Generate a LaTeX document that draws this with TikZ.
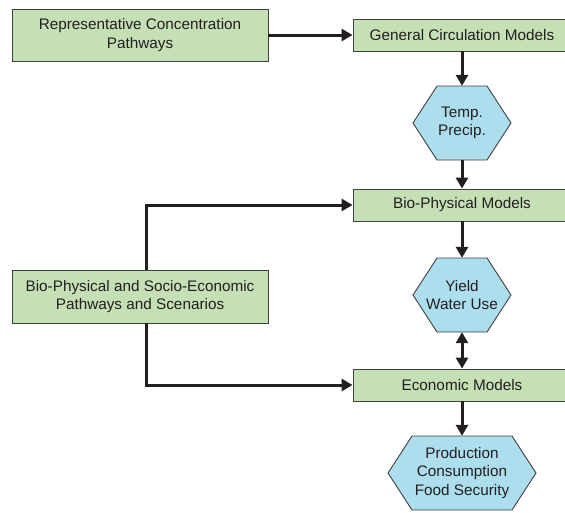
\documentclass[tikz,border=0pt]{standalone}
\usepackage{fontspec}
\setmainfont{Liberation Sans}
\usetikzlibrary{arrows.meta}

\definecolor{boxgreen}{RGB}{197,224,180}
\definecolor{hexblue}{RGB}{173,222,237}
\definecolor{inkdark}{RGB}{35,31,32}

\tikzset{
    model/.style={draw=black!75, line width=0.9pt, fill=boxgreen, text=inkdark,
        font=\fontsize{15.3}{18.5}\selectfont, align=center, inner sep=0pt,
        minimum height=32pt, minimum width=218pt},
    driver/.style={model, minimum height=52pt, minimum width=256pt},
    hexlabel/.style={text=inkdark, font=\fontsize{15.3}{18.5}\selectfont,
        align=center, inner sep=0pt, minimum height=74pt},
    hexline/.style={draw=black!75, line width=0.9pt, fill=hexblue},
    flow/.style={draw=inkdark, line width=3pt, -{Triangle[length=11pt,width=12pt]}},
    twoway/.style={flow, {Triangle[length=11pt,width=12pt]}-{Triangle[length=11pt,width=12pt]}},
}

% hexagon: name, x, y, half width, text
\newcommand{\hexnode}[5]{%
    \filldraw[hexline] (#2-#4,#3) -- (#2-#4+24,#3-37) -- (#2+#4-24,#3-37)
        -- (#2+#4,#3) -- (#2+#4-24,#3+37) -- (#2-#4+24,#3+37) -- cycle;
    \node[hexlabel, minimum width={2*#4}] (#1) at (#2,#3) {#5};
}

\begin{document}
\begin{tikzpicture}[x=1pt,y=-1pt]
        \useasboundingbox (0,0) rectangle (565,512);
        \clip (0,0) rectangle (565,512);

        % left column
        \node[driver] (rcp) at (140,35) {Representative Concentration\\Pathways};
        \node[driver, minimum height=53pt] (bpse) at (140,296.5) {Bio-Physical and Socio-Economic\\Pathways and Scenarios};

        % right column
        \node[model] (gcm) at (462,35) {General Circulation Models};
        \hexnode{climate}{462}{123}{49}{Temp.\\Precip.}
        \node[model] (bpm) at (462,205) {Bio-Physical Models};
        \hexnode{yield}{462}{295}{49}{Yield\\Water Use}
        \node[model] (econ) at (462,385) {Economic Models};
        \hexnode{food}{462}{473}{74}{Production\\Consumption\\Food Security}

        \draw[flow] (rcp) -- (gcm);
        \draw[flow] (gcm) -- (climate);
        \draw[flow] (climate) -- (bpm);
        \draw[flow] (bpm) -- (yield);
        \draw[twoway] (yield) -- (econ);
        \draw[flow] (econ) -- (food);
        \draw[flow] ([xshift=6pt]bpse.north) |- (bpm.west);
        \draw[flow] ([xshift=6pt]bpse.south) |- (econ.west);
\end{tikzpicture}
\end{document}
